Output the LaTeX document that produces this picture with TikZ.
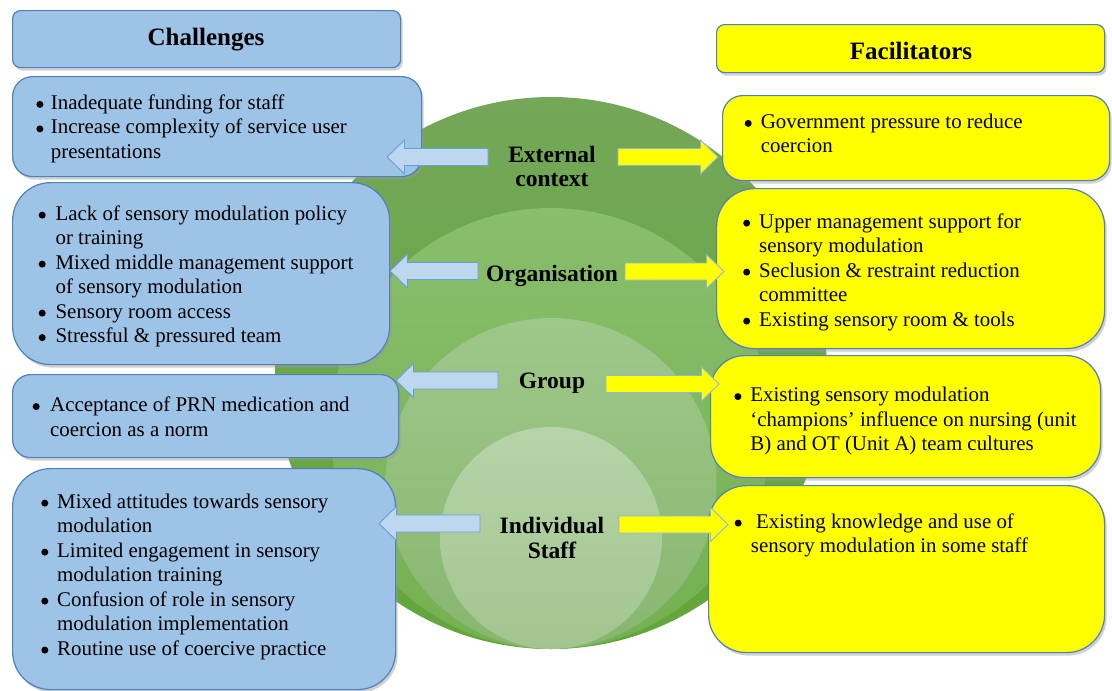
\documentclass[tikz,border=0pt]{standalone}
\usepackage{fontspec}
\setmainfont{Liberation Serif}
\usetikzlibrary{calc,shadows}

\definecolor{boxblue}{HTML}{9DC3E6}
\definecolor{edgeblue}{HTML}{4F81BD}
\definecolor{arrowblue}{HTML}{BDD7EE}
\definecolor{arrowedge}{HTML}{6A9ED6}
\definecolor{yarrowedge}{HTML}{8FB4E0}
\definecolor{boxyellow}{HTML}{FFFF00}

% round bullet hung to the left of a list line, #1 = gap from its centre to the text
\newcommand\bp[1]{\llap{\tikz[baseline=0pt]\fill[black] (0pt,4.9pt) circle[radius=3.5pt];\hspace{\dimexpr#1pt-3.5pt\relax}}}
\newcommand\bodyfont{\fontsize{20.9}{24.5}\selectfont}
\newcommand\levelfont{\fontsize{23.5}{24.5}\selectfont\bfseries}
\newcommand\headfont{\fontsize{25}{30}\selectfont\bfseries}

% block arrow from a tail coordinate to a tip coordinate
\newcommand\blockarrow[3]{%
  \draw[#1] let \p1=(#2), \p2=(#3), \p3=($(#3)!17.5pt!(#2)$) in
    (\x1,\y1+8.5pt) -- (\x3,\y1+8.5pt) -- (\x3,\y1+17pt) -- (\p2)
    -- (\x3,\y1-17pt) -- (\x3,\y1-8.5pt) -- (\x1,\y1-8.5pt) -- cycle;}

\begin{document}
\begin{tikzpicture}[x=1pt,y=-1pt,
  panel/.style={draw=edgeblue, line width=1.2pt, anchor=north west, inner sep=0pt,
    drop shadow={shadow xshift=2pt, shadow yshift=-3pt, fill=black!40, opacity=.45}},
  bluepanel/.style={panel, fill=boxblue},
  yellowpanel/.style={panel, fill=boxyellow},
  listtext/.style={anchor=base west, inner sep=0pt, font=\bodyfont},
  level/.style={anchor=base, inner sep=0pt, font=\levelfont},
  heading/.style={anchor=base, inner sep=0pt, font=\headfont},
  leftarrow/.style={fill=arrowblue, draw=arrowedge, line width=0.9pt},
  rightarrow/.style={fill=boxyellow, draw=yarrowedge, line width=0.9pt}]

\useasboundingbox (0,0) rectangle (1112,691);

% nested target circles, all touching at the bottom
\shade[top color={rgb,255:red,116;green,167;blue,88}, bottom color={rgb,255:red,98;green,166;blue,58}]
  (551,373) circle[radius=276pt];
\shade[top color={rgb,255:red,137;green,190;blue,108}, bottom color={rgb,255:red,116;green,177;blue,80}]
  (551,428.5) circle[radius=220.5pt];
\shade[top color={rgb,255:red,158;green,200;blue,138}, bottom color={rgb,255:red,136;green,182;blue,111}]
  (551,483.5) circle[radius=165.5pt];
\shade[top color={rgb,255:red,182;green,212;blue,168}, bottom color={rgb,255:red,162;green,197;blue,143}]
  (551,538) circle[radius=111pt];

% level names
\node[level] (lext) at (552,162) {\begin{tabular}[t]{@{}c@{}}External\\context\end{tabular}};
\node[level] (lorg) at (552,281.7) {Organisation};
\node[level] (lgrp) at (552,388) {Group};
\node[level] (lind) at (552,533) {\fontsize{23.5}{25}\selectfont\begin{tabular}[t]{@{}c@{}}Individual\\Staff\end{tabular}};

% headings
\node[bluepanel, rounded corners=8pt, minimum width=388pt, minimum height=57pt] (chal) at (12,10) {};
\node[heading] (chalt) at (206,45) {Challenges};
\node[yellowpanel, rounded corners=8pt, minimum width=388pt, minimum height=48pt] (faci) at (716,24) {};
\node[heading] (facit) at (911,59.3) {Facilitators};

% challenge panels
\node[bluepanel, rounded corners=20pt, minimum width=409pt, minimum height=100pt] (c1) at (12,76) {};
\node[bluepanel, rounded corners=38pt, minimum width=377pt, minimum height=182pt] (c2) at (12,182) {};
\node[bluepanel, rounded corners=18pt, minimum width=386pt, minimum height=83pt] (c3) at (12,374) {};
\node[bluepanel, rounded corners=38pt, minimum width=383pt, minimum height=221pt] (c4) at (12,468) {};

\node[listtext] (c1t) at (50.7,109.3) {\begin{tabular}[t]{@{}l@{}}
  \bp{11}Inadequate funding for staff\\
  \bp{11}Increase complexity of service user\\
  presentations\end{tabular}};
\node[listtext] (c2t) at (55.4,220) {\begin{tabular}[t]{@{}l@{}}
  \bp{13.4}Lack of sensory modulation policy\\
  or training\\
  \bp{13.4}Mixed middle management support\\
  of sensory modulation\\
  \bp{13.4}Sensory room access\\
  \bp{13.4}Stressful \& pressured team\end{tabular}};
\node[listtext] (c3t) at (50,411.5) {\begin{tabular}[t]{@{}l@{}}
  \bp{14}Acceptance of PRN medication and\\
  coercion as a norm\end{tabular}};
\node[listtext] (c4t) at (57,508) {\begin{tabular}[t]{@{}l@{}}
  \bp{12.4}Mixed attitudes towards sensory\\
  modulation\\
  \bp{12.4}Limited engagement in sensory\\
  modulation training\\
  \bp{12.4}Confusion of role in sensory\\
  modulation implementation\\
  \bp{12.4}Routine use of coercive practice\end{tabular}};

% facilitator panels
\node[yellowpanel, rounded corners=20pt, minimum width=387pt, minimum height=85pt] (f1) at (722,95) {};
\node[yellowpanel, rounded corners=38pt, minimum width=388pt, minimum height=160pt] (f2) at (716,188) {};
\node[yellowpanel, rounded corners=34pt, minimum width=390pt, minimum height=122pt] (f3) at (710,355) {};
\node[yellowpanel, rounded corners=38pt, minimum width=396pt, minimum height=167pt] (f4) at (708,485) {};

\node[listtext] (f1t) at (760.7,128.3) {\begin{tabular}[t]{@{}l@{}}
  \bp{12.7}Government pressure to reduce\\
  coercion\end{tabular}};
\node[listtext] (f2t) at (759,228) {\begin{tabular}[t]{@{}l@{}}
  \bp{12.5}Upper management support for\\
  sensory modulation\\
  \bp{12.5}Seclusion \& restraint reduction\\
  committee\\
  \bp{12.5}Existing sensory room \& tools\end{tabular}};
\node[listtext] (f3t) at (750.2,401.5) {\begin{tabular}[t]{@{}l@{}}
  \bp{12.5}Existing sensory modulation\\
  ‘champions’ influence on nursing (unit\\
  B) and OT (Unit A) team cultures\end{tabular}};
\node[listtext] (f4t) at (750.7,528) {\begin{tabular}[t]{@{}l@{}}
  \bp{12.7}\hspace{5.3pt}Existing knowledge and use of\\
  sensory modulation in some staff\end{tabular}};

% arrow ends
\coordinate (aEL0) at (488,157);   \coordinate (aEL1) at (387,157);
\coordinate (aER0) at (618,157);   \coordinate (aER1) at (718,157);
\coordinate (aOL0) at (478,271);   \coordinate (aOL1) at (390,271);
\coordinate (aOR0) at (625,271.5); \coordinate (aOR1) at (724,271.5);
\coordinate (aGL0) at (498,380.5); \coordinate (aGL1) at (396,380.5);
\coordinate (aGR0) at (606,384);   \coordinate (aGR1) at (719,384);
\coordinate (aIL0) at (480,523.5); \coordinate (aIL1) at (379,523.5);
\coordinate (aIR0) at (619,524.5); \coordinate (aIR1) at (728,524.5);

\blockarrow{leftarrow}{aEL0}{aEL1}
\blockarrow{rightarrow}{aER0}{aER1}
\blockarrow{leftarrow}{aOL0}{aOL1}
\blockarrow{rightarrow}{aOR0}{aOR1}
\blockarrow{leftarrow}{aGL0}{aGL1}
\blockarrow{rightarrow}{aGR0}{aGR1}
\blockarrow{leftarrow}{aIL0}{aIL1}
\blockarrow{rightarrow}{aIR0}{aIR1}

\end{tikzpicture}
\end{document}
